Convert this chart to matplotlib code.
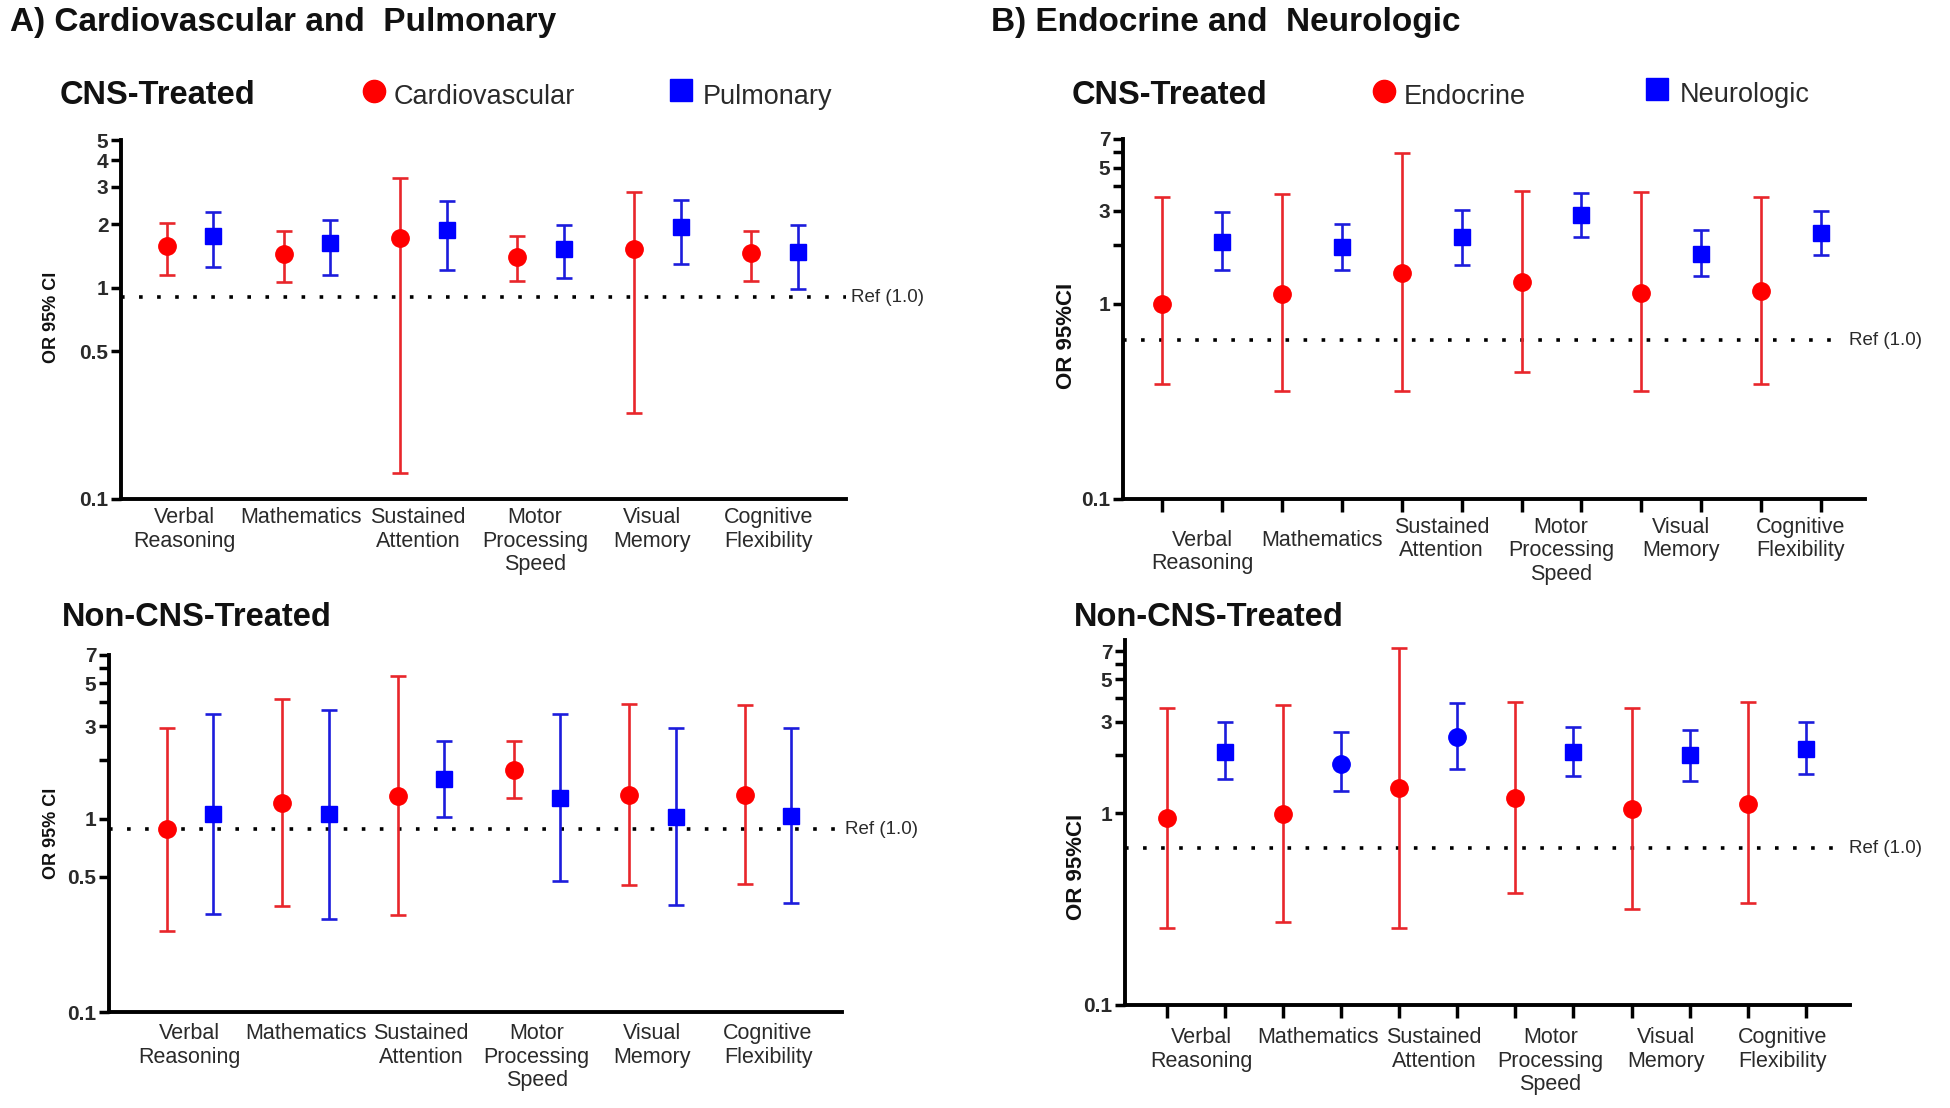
import matplotlib
matplotlib.use("Agg")
import matplotlib.pyplot as plt
from matplotlib.ticker import FixedLocator, NullFormatter

plt.rcParams['font.family'] = ['Liberation Sans', 'DejaVu Sans']

# ---------------- data ----------------
categories = ["Verbal\nReasoning", "Mathematics", "Sustained\nAttention",
              "Motor\nProcessing\nSpeed", "Visual\nMemory", "Cognitive\nFlexibility"]

# A) CNS-treated: Cardiovascular (red) / Pulmonary (blue)
cv_cns_or = [1.58, 1.44, 1.72, 1.40, 1.53, 1.46]
cv_cns_lo = [1.15, 1.06, 0.133, 1.075, 0.255, 1.075]
cv_cns_hi = [2.03, 1.85, 3.32, 1.75, 2.83, 1.86]
pul_cns_or = [1.75, 1.62, 1.87, 1.53, 1.94, 1.48]
pul_cns_lo = [1.25, 1.15, 1.21, 1.11, 1.29, 0.99]
pul_cns_hi = [2.29, 2.10, 2.57, 1.98, 2.61, 1.99]

# A) Non-CNS-treated
cv_non_or = [0.88, 1.20, 1.31, 1.78, 1.33, 1.32]
cv_non_lo = [0.261, 0.351, 0.318, 1.27, 0.454, 0.46]
cv_non_hi = [2.95, 4.15, 5.44, 2.52, 3.92, 3.85]
pul_non_or = [1.05, 1.05, 1.60, 1.28, 1.02, 1.03]
pul_non_lo = [0.321, 0.303, 1.02, 0.473, 0.358, 0.365]
pul_non_hi = [3.48, 3.62, 2.52, 3.48, 2.95, 2.95]

# B) CNS-treated: Endocrine (red) / Neurologic (blue)
endo_cns_or = [1.00, 1.13, 1.44, 1.30, 1.14, 1.17]
endo_cns_lo = [0.388, 0.358, 0.358, 0.448, 0.358, 0.388]
endo_cns_hi = [3.54, 3.64, 5.96, 3.79, 3.76, 3.54]
neu_cns_or = [2.08, 1.96, 2.20, 2.85, 1.81, 2.31]
neu_cns_lo = [1.50, 1.50, 1.58, 2.21, 1.39, 1.79]
neu_cns_hi = [2.97, 2.58, 3.04, 3.68, 2.38, 3.00]

# B) Non-CNS-treated
endo_non_or = [0.94, 0.99, 1.35, 1.20, 1.05, 1.12]
endo_non_lo = [0.253, 0.272, 0.253, 0.382, 0.315, 0.342]
endo_non_hi = [3.55, 3.67, 7.31, 3.82, 3.55, 3.78]
neu_non_or = [2.08, 1.80, 2.50, 2.08, 2.00, 2.17]
neu_non_lo = [1.51, 1.31, 1.71, 1.56, 1.47, 1.61]
neu_non_hi = [2.99, 2.64, 3.74, 2.83, 2.71, 2.99]
neu_non_markers = ['s', 'o', 'o', 's', 's', 's']

ref_value_label = "Ref (1.0)"
ref_line_a_top = 0.90
ref_line_a_bot = 0.88
ref_line_b_top = 0.652
ref_line_b_bot = 0.656

# ---------------- style ----------------
RED = '#ff0000'
RED_BAR = '#e8262b'
BLUE = '#0000ff'
BLUE_BAR = '#1c1cdc'
TXT = '#2a2a2a'

W, H = 1950, 1108
fig = plt.figure(figsize=(W / 100, H / 100), dpi=100)


def px_rect(l, r, b, t):
    return [l / W, 1 - b / H, (r - l) / W, (b - t) / H]


def draw_panel(rect, red_or, red_lo, red_hi, blue_or, blue_lo, blue_hi, blue_markers,
               offset, xlim, ylim, yticks, yticklabels, yminor, ref, ref_end, ref_text_x,
               label_shift, label_pad, label_extra, xtick_marks):
    ax = fig.add_axes(px_rect(*rect))
    ax.set_yscale('log')
    n = len(categories)
    xr = list(range(n))
    xb = [k + offset for k in xr]
    # reference line
    ax.plot([xlim[0], ref_end], [ref, ref], linestyle=(0, (1, 4)), color='black',
            lw=2.6, zorder=1, clip_on=False)
    ax.text(ref_text_x, ref, ref_value_label, ha='left', va='center', fontsize=13.5,
            color=TXT, clip_on=False)
    # red series
    ax.errorbar(xr, red_or,
                yerr=[[o - l for o, l in zip(red_or, red_lo)],
                      [h - o for o, h in zip(red_or, red_hi)]],
                fmt='none', ecolor=RED_BAR, elinewidth=1.9, capsize=6, capthick=1.9,
                zorder=2, clip_on=False)
    ax.plot(xr, red_or, 'o', color=RED, ms=12.5, zorder=3, clip_on=False)
    # blue series
    ax.errorbar(xb, blue_or,
                yerr=[[o - l for o, l in zip(blue_or, blue_lo)],
                      [h - o for o, h in zip(blue_or, blue_hi)]],
                fmt='none', ecolor=BLUE_BAR, elinewidth=1.9, capsize=6, capthick=1.9,
                zorder=2, clip_on=False)
    for x, y, m in zip(xb, blue_or, blue_markers):
        ax.plot([x], [y], m, color=BLUE, ms=12 if m == 's' else 12.5, zorder=3,
                clip_on=False)

    ax.set_xlim(*xlim)
    ax.set_ylim(*ylim)
    for s in ('top', 'right'):
        ax.spines[s].set_visible(False)
    for s in ('left', 'bottom'):
        ax.spines[s].set_linewidth(2.8)
    ax.yaxis.set_major_locator(FixedLocator(yticks))
    ax.set_yticklabels(yticklabels, fontsize=15, fontweight='bold', color=TXT)
    ax.yaxis.set_minor_locator(FixedLocator(yminor))
    ax.yaxis.set_minor_formatter(NullFormatter())
    ax.tick_params(axis='y', which='both', length=7, width=2.5, direction='out', pad=2)
    if xtick_marks:
        ax.set_xticks(sorted(xr + xb))
        ax.set_xticklabels([])
        ax.tick_params(axis='x', length=9.5, width=2.5, direction='out')
    else:
        ax.set_xticks([])
    for k, (lab, extra) in enumerate(zip(categories, label_extra)):
        ax.annotate(lab, xy=(k + label_shift, 0), xycoords=ax.get_xaxis_transform(),
                    xytext=(0, -(label_pad + extra)), textcoords='offset points',
                    ha='center', va='top', fontsize=15.5, color=TXT, linespacing=1.15,
                    annotation_clip=False)
    return ax


# Panel A top
draw_panel((121, 846, 499, 140), cv_cns_or, cv_cns_lo, cv_cns_hi,
           pul_cns_or, pul_cns_lo, pul_cns_hi, ['s'] * 6,
           offset=0.4, xlim=(-0.39, 5.81), ylim=(0.1, 5),
           yticks=[0.1, 0.5, 1, 2, 3, 4, 5],
           yticklabels=['0.1', '0.5', '1', '2', '3', '4', '5'], yminor=[],
           ref=ref_line_a_top, ref_end=5.81, ref_text_x=5.85,
           label_shift=0.15, label_pad=6, label_extra=[0] * 6, xtick_marks=False)

# Panel A bottom
draw_panel((109, 842, 1012, 655), cv_non_or, cv_non_lo, cv_non_hi,
           pul_non_or, pul_non_lo, pul_non_hi, ['s'] * 6,
           offset=0.4, xlim=(-0.5, 5.84), ylim=(0.1, 7),
           yticks=[0.1, 0.5, 1, 3, 5, 7],
           yticklabels=['0.1', '0.5', '1', '3', '5', '7'], yminor=[2, 4, 6],
           ref=ref_line_a_bot, ref_end=5.79, ref_text_x=5.87,
           label_shift=0.2, label_pad=8, label_extra=[0] * 6, xtick_marks=False)

# Panel B top
draw_panel((1123, 1865, 499, 139), endo_cns_or, endo_cns_lo, endo_cns_hi,
           neu_cns_or, neu_cns_lo, neu_cns_hi, ['s'] * 6,
           offset=0.5, xlim=(-0.33, 5.87), ylim=(0.1, 7),
           yticks=[0.1, 1, 3, 5, 7],
           yticklabels=['0.1', '1', '3', '5', '7'], yminor=[2, 4, 6],
           ref=ref_line_b_top, ref_end=5.67, ref_text_x=5.74,
           label_shift=0.33, label_pad=13, label_extra=[9, 9, 0, 0, 0, 0], xtick_marks=True)

# Panel B bottom
draw_panel((1125, 1850, 1005, 640), endo_non_or, endo_non_lo, endo_non_hi,
           neu_non_or, neu_non_lo, neu_non_hi, neu_non_markers,
           offset=0.5, xlim=(-0.36, 5.88), ylim=(0.1, 8),
           yticks=[0.1, 1, 3, 5, 7],
           yticklabels=['0.1', '1', '3', '5', '7'], yminor=[2, 4, 6],
           ref=ref_line_b_bot, ref_end=5.79, ref_text_x=5.87,
           label_shift=0.3, label_pad=16, label_extra=[0] * 6, xtick_marks=True)

# ---------------- overlay text (pixel coordinates) ----------------
ov = fig.add_axes([0, 0, 1, 1], zorder=-1)
ov.set_xlim(0, W)
ov.set_ylim(H, 0)
ov.axis('off')

ov.text(10, 31, "A) Cardiovascular and  Pulmonary", fontsize=24, fontweight='bold',
        color='#111111', va='baseline')
ov.text(991, 31, "B) Endocrine and  Neurologic", fontsize=24, fontweight='bold',
        color='#111111', va='baseline')

for x in (60, 1072):
    ov.text(x, 104, "CNS-Treated", fontsize=23.5, fontweight='bold', color='#111111',
            va='baseline')
    ov.text(x + 2, 626, "Non-CNS-Treated", fontsize=23.5, fontweight='bold',
            color='#111111', va='baseline')

# legends
ov.plot([374], [91], 'o', color=RED, ms=16)
ov.text(394, 104, "Cardiovascular", fontsize=19.5, color=TXT, va='baseline')
ov.plot([681], [90], 's', color=BLUE, ms=16)
ov.text(703, 104, "Pulmonary", fontsize=19.5, color=TXT, va='baseline')
ov.plot([1384], [91], 'o', color=RED, ms=16)
ov.text(1404, 104, "Endocrine", fontsize=19.5, color=TXT, va='baseline')
ov.plot([1657], [89], 's', color=BLUE, ms=16)
ov.text(1680, 102, "Neurologic", fontsize=19.5, color=TXT, va='baseline')

# y-axis labels
ov.text(52, 317, "OR 95% CI", fontsize=13, fontweight='bold', rotation=90,
        ha='center', va='center', color='#111111')
ov.text(52, 833, "OR 95% CI", fontsize=13, fontweight='bold', rotation=90,
        ha='center', va='center', color='#111111')
ov.text(1067, 336, "OR 95%CI", fontsize=16, fontweight='bold', rotation=90,
        ha='center', va='center', color='#111111')
ov.text(1076, 867, "OR 95%CI", fontsize=16, fontweight='bold', rotation=90,
        ha='center', va='center', color='#111111')

fig.savefig("out.png", dpi=100, facecolor='white')
